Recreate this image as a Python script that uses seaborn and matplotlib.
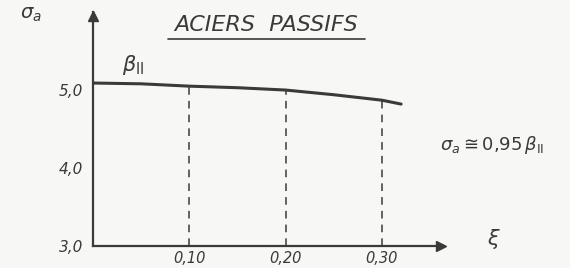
import numpy as np
import pandas as pd
import seaborn as sns
import matplotlib.pyplot as plt

# curve: sigma_a vs xi
xi = [0.0, 0.05, 0.10, 0.15, 0.20, 0.25, 0.30, 0.32]
sigma = [5.09, 5.08, 5.05, 5.03, 5.00, 4.94, 4.87, 4.82]
marks = [0.10, 0.20, 0.30]          # dashed verticals
xticks = [0.10, 0.20, 0.30]
xtick_labels = ['0,10', '0,20', '0,30']
yticks = [3.0, 4.0, 5.0]
ytick_labels = ['3,0', '4,0', '5,0']

ink = '#3a3a3a'
sns.set_style('white')
plt.rcParams['font.family'] = ['DejaVu Sans']

fig = plt.figure(figsize=(5.7, 2.68), dpi=100, facecolor='#f7f7f5')
ax = fig.add_axes([0.163, 0.082, 0.61, 0.873])
ax.set_facecolor('#f7f7f5')

df = pd.DataFrame({'xi': xi, 'sigma': sigma})
sns.lineplot(data=df, x='xi', y='sigma', ax=ax, color=ink, linewidth=2.2)

# dashed drop lines from the curve to the axis
ax.vlines(marks, 3.0, np.interp(marks, xi, sigma), colors=ink,
          linestyles=(0, (5, 4)), linewidth=1.1)

ax.set_xlim(0, 0.361)
ax.set_ylim(3.0, 6.0)
for s in ['top', 'right']:
    ax.spines[s].set_visible(False)
for s in ['left', 'bottom']:
    ax.spines[s].set_color(ink)
    ax.spines[s].set_linewidth(1.6)

# arrow heads on the axes
ax.plot(1, 0, '>', color=ink, markersize=7, transform=ax.transAxes, clip_on=False)
ax.plot(0, 0.985, '^', color=ink, markersize=7, transform=ax.transAxes, clip_on=False)

ax.set_xticks(xticks)
ax.set_xticklabels(xtick_labels, fontstyle='italic', fontsize=10.5, color=ink)
ax.set_yticks(yticks)
ax.set_yticklabels(ytick_labels, fontstyle='italic', fontsize=11, color=ink)
ax.tick_params(axis='y', length=4, width=1, color=ink, direction='inout', pad=5)
ax.tick_params(axis='x', length=4, width=1, color=ink, direction='inout', pad=1.5)
ax.set_xlabel('')
ax.set_ylabel('')

fig.text(0.035, 0.93, r'$\sigma_a$', fontsize=14, color=ink)
fig.text(0.467, 0.905, 'ACIERS  PASSIFS', fontsize=16, fontstyle='italic',
         color=ink, ha='center', va='center')
fig.add_artist(plt.Line2D([0.295, 0.64], [0.856, 0.856], color=ink, linewidth=1.2))
ax.text(0.03, 5.25, r'$\beta_{\rm II}$', fontsize=15, color=ink)
fig.text(0.772, 0.44, r'$\sigma_a \cong 0{,}95\,\beta_{\rm II}$', fontsize=13, color=ink)
fig.text(0.855, 0.085, r'$\xi$', fontsize=15, color=ink)

fig.savefig('out.png', dpi=100, facecolor=fig.get_facecolor())
